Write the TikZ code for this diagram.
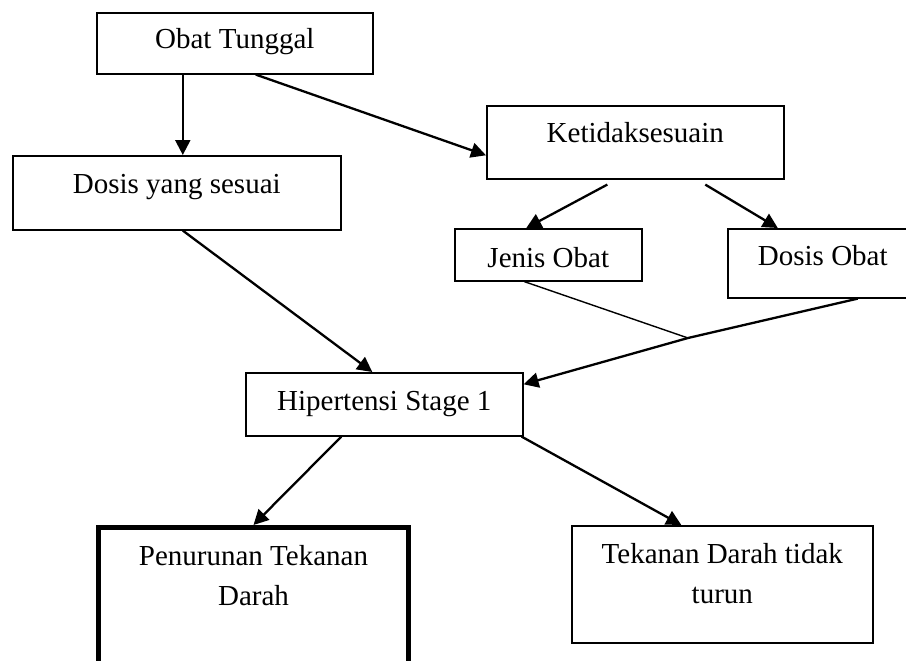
\documentclass[tikz,border=0pt]{standalone}
\usepackage{fontspec}
\setmainfont{Liberation Serif}
\usepackage{tikz}
\usetikzlibrary{arrows.meta, positioning, calc}

\begin{document}
\begin{tikzpicture}[
    x=1pt, y=-1pt,
    box_node/.style={
        draw=black,
        line width=1.6pt,
        anchor=north west,
        inner xsep=0pt,
        inner ysep=0pt,
        align=center,
        font=\fontsize{29}{40}\selectfont
    },
    thick_box/.style={
        box_node,
        line width=5pt
    },
    arrow_line/.style={
        ->,
        >={Triangle[length=15pt, width=15pt]},
        line width=2.3pt,
        color=black
    },
    plain_line/.style={
        line width=1.4pt,
        color=black
    }
]
\useasboundingbox (0,0) rectangle (906,661);

% =========================
% BOXES
% =========================
\node[box_node, minimum width=276pt, text height=36pt, text depth=25pt]
    (obat) at (96,12) {Obat Tunggal};
\node[box_node, minimum width=328pt, text height=38pt, text depth=36pt]
    (dosis) at (12,155) {Dosis yang sesuai};
\node[box_node, minimum width=297pt, text height=37pt, text depth=36pt]
    (ketidak) at (486,105) {Ketidaksesuain};
\node[box_node, minimum width=187pt, text height=39pt, text depth=13pt]
    (jenis) at (454,228) {Jenis Obat};
\node[box_node, minimum width=190pt, text height=37pt, text depth=32pt]
    (dosisobat) at (727,228) {Dosis Obat};
\node[box_node, minimum width=277pt, text height=38pt, text depth=25pt]
    (hiper) at (245,372) {Hipertensi Stage 1};
\node[thick_box, minimum width=310pt, text height=78pt, text depth=97pt]
    (turun) at (96,525) {Penurunan Tekanan\\Darah};
\node[box_node, minimum width=301pt, text height=78pt, text depth=39pt]
    (tidak) at (571,525) {Tekanan Darah tidak\\turun};

\coordinate (merge) at (688,338);

% =========================
% ARROWS
% =========================
\draw[arrow_line] ([xshift=-52pt]obat.south) -- ([xshift=-52pt]obat.south |- dosis.north);
\draw[arrow_line] ([xshift=21pt]obat.south) -- ([yshift=-13pt]ketidak.west);
\draw[arrow_line] ([xshift=-28pt, yshift=-5pt]ketidak.south) -- ([xshift=-22pt]jenis.north);
\draw[arrow_line] ([xshift=70pt, yshift=-5pt]ketidak.south) -- ([xshift=-45pt]dosisobat.north);
\draw[arrow_line] ([xshift=6pt]dosis.south) -- ([xshift=-12pt]hiper.north);

\draw[plain_line] ([xshift=-24pt]jenis.south) -- (merge);
\draw[arrow_line] ([xshift=35pt]dosisobat.south) -- (merge) -- ([yshift=20pt]hiper.east);

\draw[arrow_line] ([xshift=-43pt]hiper.south) -- (turun.north);
\draw[arrow_line] ([xshift=-2pt]hiper.south east) -- ([xshift=-41pt]tidak.north);

\end{tikzpicture}
\end{document}
